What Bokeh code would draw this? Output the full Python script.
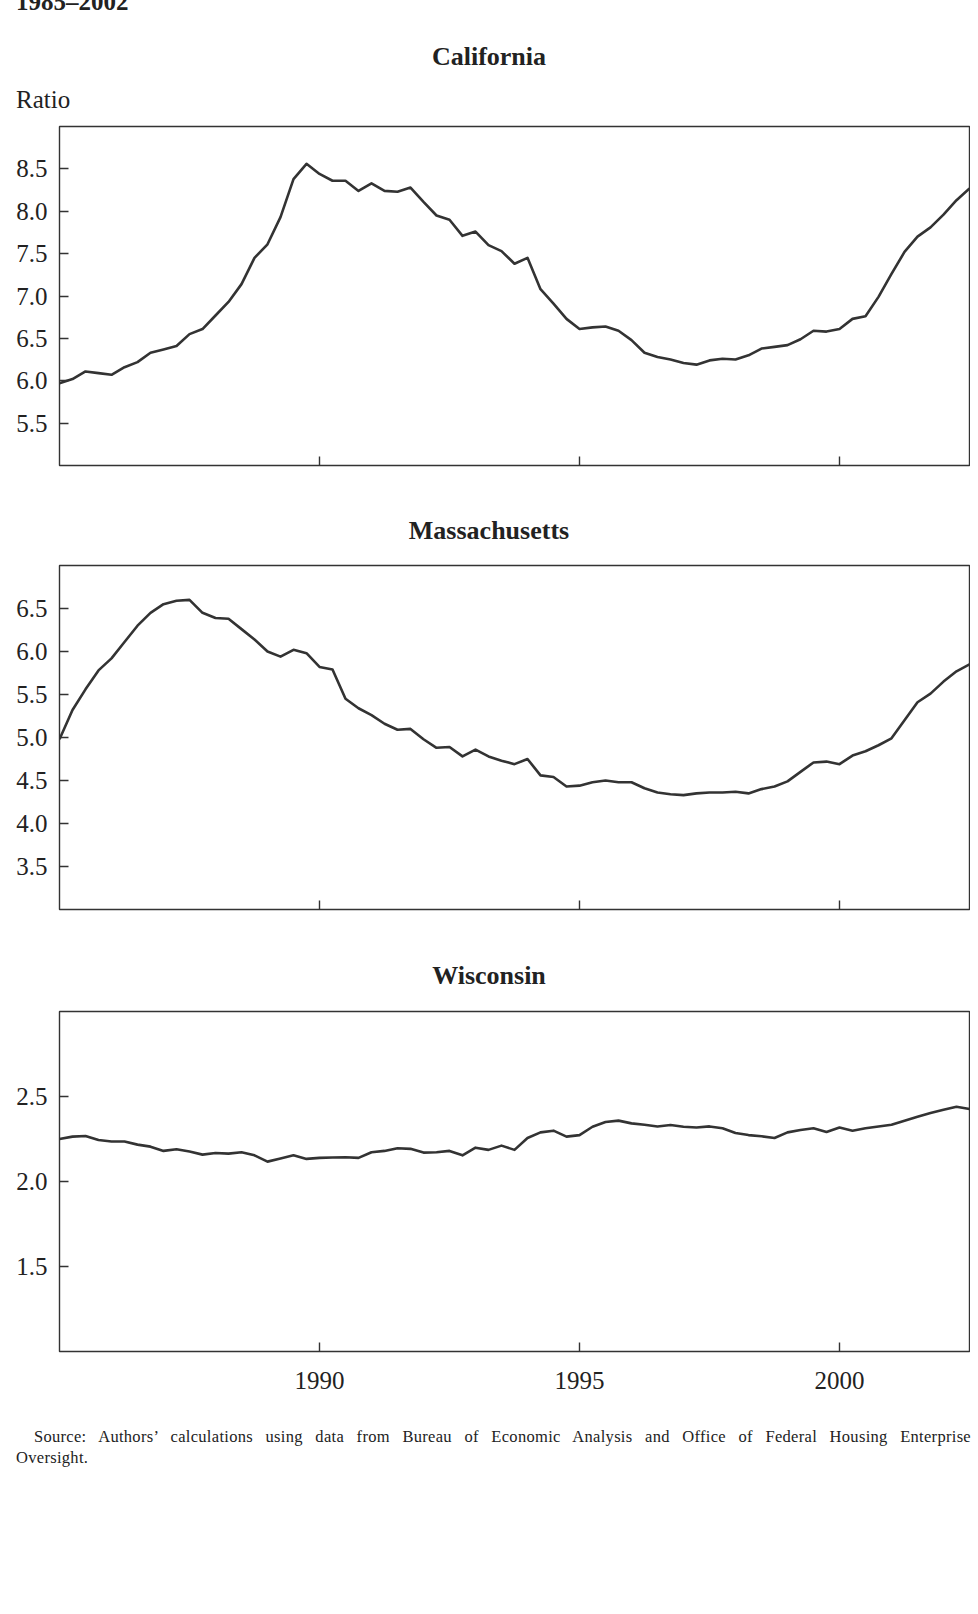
import numpy as np
from bokeh.plotting import figure
from bokeh.layouts import column
from bokeh.models import Div, Range1d, FixedTicker, NumeralTickFormatter
from bokeh.embed import file_html
from bokeh.resources import INLINE

# quarterly observations, 1985Q1 onwards
quarters = 1985 + 0.25 * np.arange(71)

california = [5.97, 6.02, 6.11, 6.09, 6.07, 6.16, 6.22, 6.33, 6.37, 6.41,
              6.55, 6.61, 6.77, 6.93, 7.14, 7.45, 7.61, 7.93, 8.38, 8.56,
              8.44, 8.36, 8.36, 8.24, 8.33, 8.24, 8.23, 8.28, 8.11, 7.95,
              7.90, 7.71, 7.76, 7.60, 7.53, 7.38, 7.45, 7.08, 6.91, 6.73,
              6.61, 6.63, 6.64, 6.59, 6.48, 6.33, 6.28, 6.25, 6.21, 6.19,
              6.24, 6.26, 6.25, 6.30, 6.38, 6.40, 6.42, 6.49, 6.59, 6.58,
              6.61, 6.73, 6.76, 6.99, 7.26, 7.52, 7.70, 7.81, 7.96, 8.13,
              8.27]

massachusetts = [4.98, 5.32, 5.56, 5.78, 5.92, 6.11, 6.30, 6.45, 6.55, 6.59,
                 6.60, 6.45, 6.39, 6.38, 6.26, 6.14, 6.00, 5.94, 6.02, 5.98,
                 5.82, 5.79, 5.45, 5.34, 5.26, 5.16, 5.09, 5.10, 4.98, 4.88,
                 4.89, 4.78, 4.86, 4.78, 4.73, 4.69, 4.75, 4.56, 4.54, 4.43,
                 4.44, 4.48, 4.50, 4.48, 4.48, 4.41, 4.36, 4.34, 4.33, 4.35,
                 4.36, 4.36, 4.37, 4.35, 4.40, 4.43, 4.49, 4.60, 4.71, 4.72,
                 4.69, 4.79, 4.84, 4.91, 4.99, 5.20, 5.41, 5.51, 5.65, 5.77,
                 5.85]

wisconsin = [2.250, 2.264, 2.268, 2.244, 2.235, 2.235, 2.217, 2.205, 2.180, 2.190,
             2.176, 2.158, 2.168, 2.164, 2.172, 2.154, 2.117, 2.135, 2.154, 2.133,
             2.139, 2.141, 2.143, 2.139, 2.172, 2.180, 2.196, 2.192, 2.170, 2.172,
             2.180, 2.154, 2.199, 2.186, 2.211, 2.186, 2.256, 2.289, 2.299, 2.264,
             2.273, 2.322, 2.350, 2.358, 2.342, 2.334, 2.324, 2.332, 2.322, 2.318,
             2.324, 2.313, 2.285, 2.273, 2.266, 2.256, 2.289, 2.303, 2.313, 2.291,
             2.318, 2.299, 2.313, 2.324, 2.334, 2.358, 2.381, 2.403, 2.422, 2.440,
             2.426]

year_ticks = [1990, 1995, 2000]
ca_ticks = [5.5, 6.0, 6.5, 7.0, 7.5, 8.0, 8.5]
ma_ticks = [3.5, 4.0, 4.5, 5.0, 5.5, 6.0, 6.5]
wi_ticks = [1.5, 2.0, 2.5]

FONT = "Liberation Serif"
INK = "#222222"
LINE = "#333333"


def panel(values, y0, y1, yticks, frame_h, top, bottom, xlabels):
    p = figure(width=962, height=top + frame_h + bottom,
               x_range=Range1d(1985, 2002.5), y_range=Range1d(y0, y1),
               toolbar_location=None, tools="", output_backend="svg",
               min_border_left=51, min_border_right=1,
               min_border_top=top, min_border_bottom=bottom,
               margin=(0, 0, 0, 8))
    p.line(quarters, values, line_color=LINE, line_width=2.6, line_join="round")

    p.outline_line_color = LINE
    p.outline_line_width = 1.4
    p.xgrid.grid_line_color = None
    p.ygrid.grid_line_color = None
    p.background_fill_color = None
    p.border_fill_color = None

    for ax in (p.xaxis, p.yaxis):
        ax.axis_line_color = None
        ax.major_tick_in = 9
        ax.major_tick_out = 0
        ax.major_tick_line_color = LINE
        ax.major_tick_line_width = 1.4
        ax.minor_tick_line_color = None
        ax.major_label_text_font = FONT
        ax.major_label_text_color = INK
        ax.major_label_text_font_size = "25px"

    p.yaxis.ticker = FixedTicker(ticks=yticks)
    p.yaxis.formatter = NumeralTickFormatter(format="0.0")
    p.yaxis.major_label_standoff = 12

    p.xaxis.ticker = FixedTicker(ticks=year_ticks)
    if xlabels:
        p.xaxis.major_label_standoff = 20
    else:
        # ticks only, the year labels sit under the last panel
        p.xaxis.major_label_text_color = None
        p.xaxis.major_label_text_font_size = "1px"
        p.xaxis.major_label_standoff = 0
    return p


def title_div(text, top):
    return Div(text=text, width=962, height=25, margin=(top, 0, 0, 8),
               styles={"font-family": FONT, "font-size": "26px",
                       "font-weight": "bold", "line-height": "25px",
                       "text-align": "center", "color": INK})


header = Div(text="1985–2002", width=300, height=25, margin=(-11, 0, 0, 16),
             styles={"font-family": FONT, "font-size": "25px",
                     "font-weight": "bold", "line-height": "25px", "color": INK})

ratio = Div(text="Ratio", width=200, height=25, margin=(18, 0, 0, 16),
            styles={"font-family": FONT, "font-size": "25px",
                    "line-height": "25px", "color": INK})

source_text = ('<div style="display: block; width: 955px; text-align: justify; '
               'text-align-last: justify; text-indent: 18px;">'
               'Source: Authors’ calculations using data from Bureau of Economic '
               'Analysis and Office of Federal Housing Enterprise</div>'
               '<div style="display: block; width: 955px;">Oversight.</div>')
source = Div(text=source_text, width=955, height=44, margin=(25, 0, 0, 16),
             styles={"font-family": FONT, "font-size": "16.5px", "line-height": "21px",
                     "letter-spacing": "0.3px", "color": INK})

p1 = panel(california, 5.0, 9.0, ca_ticks, 339, 14, 20, False)
p2 = panel(massachusetts, 3.0, 7.0, ma_ticks, 344, 22, 20, False)
p3 = panel(wisconsin, 1.0, 3.0, wi_ticks, 340, 23, 50, True)

layout = column(header, title_div("California", 30), ratio, p1,
                title_div("Massachusetts", 33), p2,
                title_div("Wisconsin", 34), p3, source, spacing=0)

open("out.html", "w").write(file_html(layout, INLINE))
